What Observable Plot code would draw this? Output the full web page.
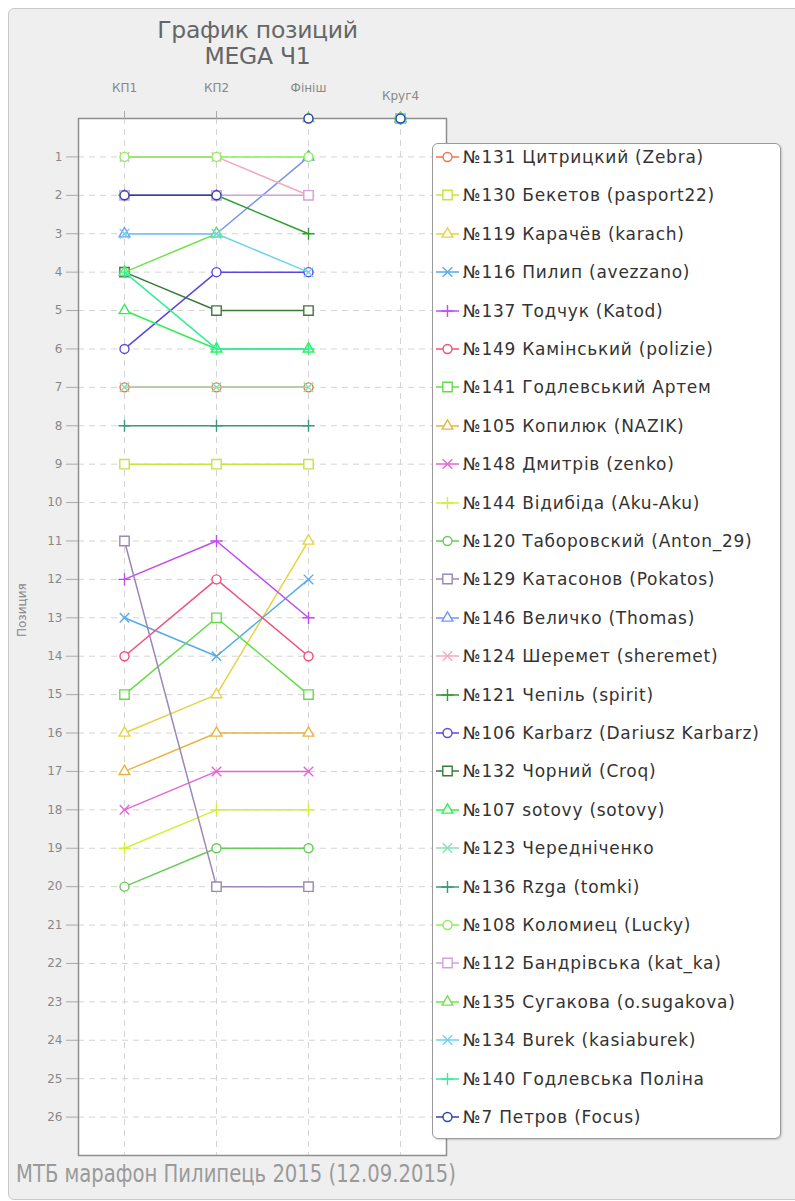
<!DOCTYPE html>
<html>
<head>
<meta charset="utf-8">
<script src="https://cdn.jsdelivr.net/npm/d3@7"></script>
<script src="https://cdn.jsdelivr.net/npm/@observablehq/plot@0.6"></script>
<style>
  html, body { margin: 0; padding: 0; background: #ffffff; }
  #wrap { position: relative; width: 795px; height: 1201px; overflow: hidden; font-family: "DejaVu Sans", sans-serif; }
  #card { position: absolute; left: 8px; top: 8px; width: 800px; height: 1190px; background: #efefef; border: 1px solid #c8c8c8; border-radius: 6px; }
  .title { position: absolute; left: 0; width: 515px; text-align: center; color: #666; font-size: 23.5px; line-height: 22px; letter-spacing: -0.3px; }
  #chart { position: absolute; left: 0; top: 70px; }
  #legend { position: absolute; left: 432px; top: 143px; width: 347px; height: 994px; background: #fff; border: 1px solid #9a9a9a; border-radius: 6px; box-shadow: 1px 1px 2px rgba(0,0,0,0.18); }
  .item { position: absolute; left: 0; height: 20px; display: flex; align-items: center; white-space: nowrap; }
  .item svg { margin-left: 3px; }
  .item span { margin-left: 3px; font-size: 17px; letter-spacing: 0.75px; color: #333; }
  #caption { position: absolute; left: 14px; top: 1150px; }
</style>
</head>
<body>
<div id="wrap">
  <div id="card"></div>
  <div class="title" style="top:19px">График позиций</div>
  <div class="title" style="top:45px">MEGA Ч1</div>
  <div id="chart"></div>
  <div id="legend"></div>
  <div id="caption"></div>
</div>
<script>
// ---- data ----
const categories = ["КП1", "КП2", "Фініш", "Круг4"];
const riders = [
  "№131 Цитрицкий (Zebra)", "№130 Бекетов (pasport22)", "№119 Карачёв (karach)",
  "№116 Пилип (avezzano)", "№137 Тодчук (Katod)", "№149 Камінський (polizie)",
  "№141 Годлевський Артем", "№105 Копилюк (NAZIK)", "№148 Дмитрів (zenko)",
  "№144 Відибіда (Aku-Aku)", "№120 Таборовский (Anton_29)", "№129 Катасонов (Pokatos)",
  "№146 Величко (Thomas)", "№124 Шеремет (sheremet)", "№121 Чепіль (spirit)",
  "№106 Karbarz (Dariusz Karbarz)", "№132 Чорний (Croq)", "№107 sotovy (sotovy)",
  "№123 Чередніченко", "№136 Rzga (tomki)", "№108 Коломиец (Lucky)",
  "№112 Бандрівська (kat_ka)", "№135 Сугакова (o.sugakova)", "№134 Burek (kasiaburek)",
  "№140 Годлевська Поліна", "№7 Петров (Focus)"
];
// positions at each checkpoint (0 = no position recorded)
const kp1    = [7, 9, 16, 13, 12, 14, 15, 17, 18, 19, 20, 11, 3, 1, 2, 6, 4, 5, 7, 8, 1, 2, 4, 3, 4, 2];
const kp2    = [7, 9, 15, 14, 11, 12, 13, 16, 17, 18, 19, 20, 3, 1, 2, 4, 5, 6, 7, 8, 1, 2, 3, 3, 6, 2];
const finish = [7, 9, 11, 12, 13, 14, 15, 16, 17, 18, 19, 20, 1, 2, 3, 4, 5, 6, 7, 8, 1, 2, 0, 4, 6, 0];
const lap4   = [0, 0, 0, 0, 0, 0, 0, 0, 0, 0, 0, 0, 0, 0, 0, 0, 0, 0, 0, 0, 0, 0, 0, 0, 0, 0];
const yTicks = [1,2,3,4,5,6,7,8,9,10,11,12,13,14,15,16,17,18,19,20,21,22,23,24,25,26];

// ---- styling ----
const shapes = ["circle","square","triangle","times","plus","circle","square","triangle","times","plus",
                "circle","square","triangle","times","plus","circle","square","triangle","times","plus",
                "circle","square","triangle","times","plus","circle"];
const colors = ["#f0744a","#c8e244","#e6d244","#56aae8","#c24cf0","#f0507c","#64dc46","#e8b444","#e266d6","#d4ee3a",
                "#66cc58","#9a88b8","#7896f0","#f2aabe","#2e9e2e","#5a48e0","#3a7a3a","#33ee55","#88e0b4","#3a9a78",
                "#88f058","#d4a0dc","#74e050","#6cd2f0","#33ee99","#2c44a8"];
const rSize = {circle: 4.5, square: 5.3, triangle: 4, times: 4.4, plus: 4};

const columns = [kp1, kp2, finish, lap4];
const rows = riders.flatMap((name, i) =>
  columns.map((arr, j) => ({name, i, cat: categories[j], pos: arr[i]})));

const seriesMarks = riders.flatMap((name, i) => {
  const d = rows.filter(r => r.i === i);
  const sh = shapes[i];
  const hollow = sh === "circle" || sh === "square" || sh === "triangle";
  return [
    Plot.line(d, {x: "cat", y: r => r.pos > 0 ? r.pos : NaN, stroke: colors[i], strokeWidth: 1.5}),
    Plot.dot(d, {x: "cat", y: "pos", symbol: () => sh, r: rSize[sh], stroke: colors[i],
                 strokeWidth: 1.4, fill: hollow ? "white" : "none"})
  ];
});

const chart = Plot.plot({
  width: 795,
  height: 1100,
  marginTop: 48,
  marginBottom: 15,
  marginLeft: 78,
  marginRight: 349,
  style: {background: "transparent", color: "#8a8a8a", fontFamily: "DejaVu Sans, sans-serif"},
  x: {type: "point", domain: categories, padding: 0.48, label: null},
  y: {domain: [0, 27], reverse: true, label: null},
  symbol: {type: "identity"},
  marks: [
    Plot.frame({fill: "white", stroke: "none"}),
    Plot.gridX(categories, {stroke: "#d4d4d4", strokeOpacity: 1, strokeDasharray: "6,5"}),
    Plot.gridY(yTicks, {stroke: "#d4d4d4", strokeOpacity: 1, strokeDasharray: "6,5"}),
    Plot.frame({stroke: "#8e8e8e", strokeWidth: 1.5}),
    Plot.axisY(yTicks, {tickSize: 12, tickPadding: 4, fontSize: 12, stroke: "#aaa", fill: "#888"}),
    Plot.axisX(categories.slice(0, 3), {anchor: "top", tickSize: 8, tickPadding: 19, fontSize: 12, stroke: "#aaa", fill: "#888"}),
    Plot.axisX(categories.slice(3), {anchor: "top", tickSize: 8, tickPadding: 11, fontSize: 12, stroke: "#aaa", fill: "#888"}),
    Plot.text(["Позиция"], {frameAnchor: "left", dx: -56, rotate: -90, fontSize: 12, fill: "#888"}),
    ...seriesMarks
  ]
});
document.getElementById("chart").appendChild(chart);

// ---- legend ----
const legend = d3.select("#legend");
const typeMap = {circle: d3.symbolCircle, square: d3.symbolSquare, triangle: d3.symbolTriangle, times: d3.symbolTimes, plus: d3.symbolPlus};
riders.forEach((name, i) => {
  const item = legend.append("div").attr("class", "item").style("top", (3 + 38.4 * i) + "px");
  const svg = item.append("svg").attr("width", 24).attr("height", 20);
  svg.append("line").attr("x1", 0).attr("x2", 23).attr("y1", 10).attr("y2", 10)
     .attr("stroke", colors[i]).attr("stroke-width", 1.5);
  const sh = shapes[i];
  const hollow = sh === "circle" || sh === "square" || sh === "triangle";
  const r = rSize[sh];
  svg.append("path").attr("transform", "translate(11.5,10)")
     .attr("d", d3.symbol(typeMap[sh], Math.PI * r * r)())
     .attr("fill", hollow ? "white" : "none").attr("stroke", colors[i]).attr("stroke-width", 1.4);
  item.append("span").text(name);
});

// ---- caption ----
const cap = d3.select("#caption").append("svg").attr("width", 700).attr("height", 48);
cap.append("text").attr("x", 2).attr("y", 32)
   .attr("textLength", 440).attr("lengthAdjust", "spacingAndGlyphs")
   .attr("font-family", "DejaVu Sans Condensed, Liberation Sans Narrow, DejaVu Sans, sans-serif")
   .attr("font-size", 25).attr("fill", "#9a9a9a")
   .text("МТБ марафон Пилипець 2015 (12.09.2015)");
</script>
</body>
</html>
